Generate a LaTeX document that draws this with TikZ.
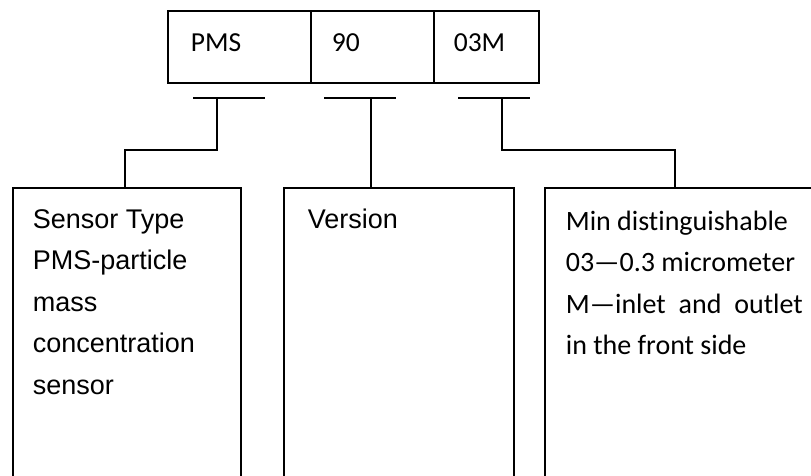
\documentclass[tikz,border=0pt]{standalone}
\usepackage{fontspec}
\newfontfamily\arialf{Liberation Sans}
\newfontfamily\calf[Ligatures={NoCommon,NoRare,NoContextual}]{Carlito}
\begin{document}
\begin{tikzpicture}[x=1pt,y=-1pt,line width=1.7pt,
  cell/.style={draw,rectangle,inner sep=0pt,anchor=north west,minimum height=72pt},
  descbox/.style={draw,rectangle,inner sep=0pt,anchor=north west,minimum height=330pt},
  toptext/.style={anchor=base west,inner sep=0pt,font=\calf\fontsize{27.5}{33}\selectfont},
  ltext/.style={anchor=base west,inner sep=0pt,font=\arialf\fontsize{27}{32}\selectfont},
  rtext/.style={anchor=base west,inner sep=0pt,font=\calf\fontsize{28}{34}\selectfont}]
\useasboundingbox (0,0) rectangle (811,476);
\clip (0,0) rectangle (811,476);
% top code cells
\node[cell,minimum width=143pt] (c1) at (167,10) {};
\node[cell,minimum width=123pt] (c2) at (310,10) {};
\node[cell,minimum width=105pt] (c3) at (433,10) {};
\node[toptext] (t1) at (190,52) {PMS};
\node[toptext] (t2) at (331,52) {90};
\node[toptext] (t3) at (453,52) {03M};
% bars
\coordinate (b1l) at (193,98); \coordinate (b1r) at (265,98); \coordinate (b1m) at (217,98);
\coordinate (b2l) at (324,98); \coordinate (b2r) at (396,98); \coordinate (b2m) at (371,98);
\coordinate (b3l) at (458,98); \coordinate (b3r) at (530,98); \coordinate (b3m) at (502,98);
\draw (b1l) -- (b1r);
\draw (b2l) -- (b2r);
\draw (b3l) -- (b3r);
% description boxes
\node[descbox,minimum width=228pt] (box1) at (12,187) {};
\node[descbox,minimum width=230pt] (box2) at (283,187) {};
\node[descbox,minimum width=290pt] (box3) at (544,187) {};
% connectors
\coordinate (k1) at (125,150);
\coordinate (k3) at (675,150);
\draw (b1m) |- (k1) -- (k1 |- box1.north);
\draw (b2m) -- (b2m |- box2.north);
\draw (b3m) |- (k3) -- (k3 |- box3.north);
% texts
\node[ltext] (l1) at (32,228) {Sensor Type};
\node[ltext] (l2) at (32,269.5) {PMS-particle};
\node[ltext] (l3) at (32,311) {mass};
\node[ltext] (l4) at (32,352.5) {concentration};
\node[ltext] (l5) at (32,394) {sensor};
\node[ltext] (v1) at (307,228) {Version};
\node[rtext] (r1) at (565,230) {Min distinguishable};
\node[rtext] (r2) at (565,271.5) {03—0.3 micrometer};
\node[rtext] (r3) at (565,313) {\makebox[237pt][s]{M—inlet and outlet}};
\node[rtext] (r4) at (565,354.5) {in the front side};
\end{tikzpicture}
\end{document}
